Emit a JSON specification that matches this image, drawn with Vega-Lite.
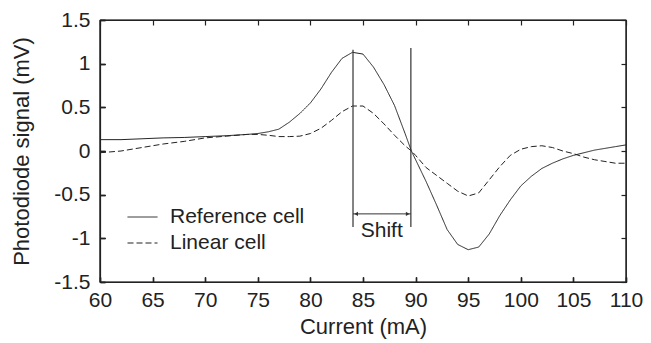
{
  "$schema": "https://vega.github.io/schema/vega-lite/v6.json",
  "width": 526,
  "height": 262,
  "autosize": {"type": "none"},
  "padding": {"left": 100, "top": 20, "right": 25, "bottom": 61},
  "config": {
    "font": "Liberation Sans",
    "view": {"stroke": "#222", "strokeWidth": 1.2},
    "axis": {
      "grid": false,
      "zindex": 1,
      "domainColor": "#222",
      "domainWidth": 1.2,
      "tickColor": "#222",
      "tickWidth": 1.2,
      "labelColor": "#222",
      "titleColor": "#222",
      "labelFontSize": 21,
      "titleFontSize": 22,
      "titleFontWeight": "normal",
      "labelFont": "Liberation Sans",
      "titleFont": "Liberation Sans"
    }
  },
  "datasets": {
    "curves": [
      {"x": 60, "y": 0.13, "cell": "Reference cell"},
      {"x": 62, "y": 0.13, "cell": "Reference cell"},
      {"x": 64, "y": 0.14, "cell": "Reference cell"},
      {"x": 66, "y": 0.15, "cell": "Reference cell"},
      {"x": 68, "y": 0.155, "cell": "Reference cell"},
      {"x": 70, "y": 0.165, "cell": "Reference cell"},
      {"x": 72, "y": 0.175, "cell": "Reference cell"},
      {"x": 74, "y": 0.19, "cell": "Reference cell"},
      {"x": 75, "y": 0.2, "cell": "Reference cell"},
      {"x": 76, "y": 0.22, "cell": "Reference cell"},
      {"x": 77, "y": 0.25, "cell": "Reference cell"},
      {"x": 78, "y": 0.33, "cell": "Reference cell"},
      {"x": 79, "y": 0.43, "cell": "Reference cell"},
      {"x": 80, "y": 0.55, "cell": "Reference cell"},
      {"x": 81, "y": 0.71, "cell": "Reference cell"},
      {"x": 82, "y": 0.9, "cell": "Reference cell"},
      {"x": 83, "y": 1.06, "cell": "Reference cell"},
      {"x": 84, "y": 1.13, "cell": "Reference cell"},
      {"x": 85, "y": 1.11, "cell": "Reference cell"},
      {"x": 86, "y": 0.96, "cell": "Reference cell"},
      {"x": 87, "y": 0.76, "cell": "Reference cell"},
      {"x": 88, "y": 0.52, "cell": "Reference cell"},
      {"x": 89, "y": 0.2, "cell": "Reference cell"},
      {"x": 89.6, "y": 0.0, "cell": "Reference cell"},
      {"x": 90, "y": -0.1, "cell": "Reference cell"},
      {"x": 91, "y": -0.35, "cell": "Reference cell"},
      {"x": 92, "y": -0.62, "cell": "Reference cell"},
      {"x": 93, "y": -0.9, "cell": "Reference cell"},
      {"x": 94, "y": -1.07, "cell": "Reference cell"},
      {"x": 95, "y": -1.13, "cell": "Reference cell"},
      {"x": 96, "y": -1.1, "cell": "Reference cell"},
      {"x": 97, "y": -0.95, "cell": "Reference cell"},
      {"x": 98, "y": -0.74, "cell": "Reference cell"},
      {"x": 99, "y": -0.56, "cell": "Reference cell"},
      {"x": 100, "y": -0.4, "cell": "Reference cell"},
      {"x": 101, "y": -0.29, "cell": "Reference cell"},
      {"x": 102, "y": -0.2, "cell": "Reference cell"},
      {"x": 103, "y": -0.14, "cell": "Reference cell"},
      {"x": 104, "y": -0.09, "cell": "Reference cell"},
      {"x": 105, "y": -0.05, "cell": "Reference cell"},
      {"x": 106, "y": -0.02, "cell": "Reference cell"},
      {"x": 107, "y": 0.01, "cell": "Reference cell"},
      {"x": 108, "y": 0.03, "cell": "Reference cell"},
      {"x": 109, "y": 0.05, "cell": "Reference cell"},
      {"x": 110, "y": 0.07, "cell": "Reference cell"},
      {"x": 60, "y": -0.02, "cell": "Linear cell"},
      {"x": 62, "y": 0.0, "cell": "Linear cell"},
      {"x": 64, "y": 0.04, "cell": "Linear cell"},
      {"x": 66, "y": 0.08, "cell": "Linear cell"},
      {"x": 68, "y": 0.11, "cell": "Linear cell"},
      {"x": 70, "y": 0.15, "cell": "Linear cell"},
      {"x": 72, "y": 0.17, "cell": "Linear cell"},
      {"x": 74, "y": 0.19, "cell": "Linear cell"},
      {"x": 75, "y": 0.19, "cell": "Linear cell"},
      {"x": 76, "y": 0.18, "cell": "Linear cell"},
      {"x": 77, "y": 0.165, "cell": "Linear cell"},
      {"x": 78, "y": 0.165, "cell": "Linear cell"},
      {"x": 79, "y": 0.17, "cell": "Linear cell"},
      {"x": 80, "y": 0.2, "cell": "Linear cell"},
      {"x": 81, "y": 0.26, "cell": "Linear cell"},
      {"x": 82, "y": 0.35, "cell": "Linear cell"},
      {"x": 83, "y": 0.45, "cell": "Linear cell"},
      {"x": 84, "y": 0.515, "cell": "Linear cell"},
      {"x": 85, "y": 0.515, "cell": "Linear cell"},
      {"x": 86, "y": 0.43, "cell": "Linear cell"},
      {"x": 87, "y": 0.31, "cell": "Linear cell"},
      {"x": 88, "y": 0.18, "cell": "Linear cell"},
      {"x": 89, "y": 0.06, "cell": "Linear cell"},
      {"x": 89.6, "y": 0.0, "cell": "Linear cell"},
      {"x": 90, "y": -0.05, "cell": "Linear cell"},
      {"x": 91, "y": -0.19, "cell": "Linear cell"},
      {"x": 92, "y": -0.28, "cell": "Linear cell"},
      {"x": 93, "y": -0.37, "cell": "Linear cell"},
      {"x": 94, "y": -0.46, "cell": "Linear cell"},
      {"x": 95, "y": -0.515, "cell": "Linear cell"},
      {"x": 96, "y": -0.48, "cell": "Linear cell"},
      {"x": 97, "y": -0.33, "cell": "Linear cell"},
      {"x": 98, "y": -0.18, "cell": "Linear cell"},
      {"x": 99, "y": -0.05, "cell": "Linear cell"},
      {"x": 100, "y": 0.02, "cell": "Linear cell"},
      {"x": 101, "y": 0.05, "cell": "Linear cell"},
      {"x": 102, "y": 0.06, "cell": "Linear cell"},
      {"x": 103, "y": 0.04, "cell": "Linear cell"},
      {"x": 104, "y": 0.0, "cell": "Linear cell"},
      {"x": 105, "y": -0.03, "cell": "Linear cell"},
      {"x": 106, "y": -0.07, "cell": "Linear cell"},
      {"x": 107, "y": -0.1, "cell": "Linear cell"},
      {"x": 108, "y": -0.12, "cell": "Linear cell"},
      {"x": 109, "y": -0.14, "cell": "Linear cell"},
      {"x": 110, "y": -0.14, "cell": "Linear cell"}
    ],
    "vlines": [
      {"x": 84.05, "y": 1.16, "y2": -0.87},
      {"x": 89.55, "y": 1.18, "y2": -0.87}
    ],
    "arrow": [
      {"x": 84.05, "x2": 89.55, "y": -0.72}
    ],
    "heads": [
      {"x": 84.35, "y": -0.72, "dir": "left"},
      {"x": 89.25, "y": -0.72, "dir": "right"}
    ],
    "label": [
      {"x": 86.78, "y": -0.985, "text": "Shift"}
    ],
    "frameX": [
      {"x": 60},
      {"x": 110}
    ],
    "frameY": [
      {"y": -1.5},
      {"y": 1.5}
    ]
  },
  "layer": [
    {
      "data": {"name": "curves"},
      "mark": {"type": "line", "color": "#222", "strokeWidth": 1},
      "encoding": {
        "x": {
          "field": "x", "type": "quantitative",
          "scale": {"domain": [60, 110], "nice": false, "zero": false},
          "axis": {"orient": "bottom", "values": [60, 65, 70, 75, 80, 85, 90, 95, 100, 105, 110], "ticks": false, "labelPadding": 7, "title": "Current (mA)", "titlePadding": 6, "labelExpr": "'' + datum.value", "labelFlush": false, "labelOverlap": false}
        },
        "y": {
          "field": "y", "type": "quantitative",
          "scale": {"domain": [-1.5, 1.5], "nice": false, "zero": false},
          "axis": {"orient": "left", "values": [-1.5, -1, -0.5, 0, 0.5, 1, 1.5], "ticks": false, "labelPadding": 10, "title": "Photodiode signal (mV)", "titlePadding": 20, "labelExpr": "'' + datum.value", "labelFlush": false, "labelOverlap": false}
        },
        "strokeDash": {
          "field": "cell", "type": "nominal",
          "scale": {"domain": ["Reference cell", "Linear cell"], "range": [[1, 0], [6, 3]]},
          "legend": {
            "title": null, "orient": "none", "legendX": 27, "legendY": 185,
            "symbolType": "stroke", "symbolSize": 900, "symbolStrokeWidth": 1, "symbolStrokeColor": "#222",
            "labelFontSize": 21, "labelColor": "#222", "labelOffset": 12, "clipHeight": 24, "rowPadding": 2, "padding": 0
          }
        },
        "detail": {"field": "cell"}
      }
    },
    {
      "data": {"name": "vlines"},
      "mark": {"type": "rule", "color": "#333", "strokeWidth": 1.2},
      "encoding": {
        "x": {"field": "x", "type": "quantitative", "axis": {"orient": "top", "values": [60, 65, 70, 75, 80, 85, 90, 95, 100, 105, 110], "offset": -5, "tickSize": 5, "domain": false, "labels": false, "title": null}},
        "y": {"field": "y", "type": "quantitative", "axis": {"orient": "right", "values": [-1.5, -1, -0.5, 0, 0.5, 1, 1.5], "offset": -5, "tickSize": 5, "domain": false, "labels": false, "title": null}},
        "y2": {"field": "y2"}
      }
    },
    {
      "data": {"name": "arrow"},
      "mark": {"type": "rule", "color": "#333", "strokeWidth": 1},
      "encoding": {
        "x": {"field": "x", "type": "quantitative", "axis": {"orient": "bottom", "values": [60, 65, 70, 75, 80, 85, 90, 95, 100, 105, 110], "offset": -5, "tickSize": 5, "domain": false, "labels": false, "title": null}},
        "x2": {"field": "x2"},
        "y": {"field": "y", "type": "quantitative", "axis": {"orient": "left", "values": [-1.5, -1, -0.5, 0, 0.5, 1, 1.5], "offset": -5, "tickSize": 5, "domain": false, "labels": false, "title": null}}
      }
    },
    {
      "data": {"name": "frameX"},
      "mark": {"type": "rule", "color": "#222", "strokeWidth": 1.2},
      "encoding": {
        "x": {"field": "x", "type": "quantitative", "axis": {"orient": "bottom", "values": [60, 65, 70, 75, 80, 85, 90, 95, 100, 105, 110], "offset": -5, "tickSize": 5, "domain": false, "labels": false, "title": null}}
      }
    },
    {
      "data": {"name": "frameY"},
      "mark": {"type": "rule", "color": "#222", "strokeWidth": 1.2},
      "encoding": {
        "y": {"field": "y", "type": "quantitative", "axis": {"orient": "left", "values": [-1.5, -1, -0.5, 0, 0.5, 1, 1.5], "offset": -5, "tickSize": 5, "domain": false, "labels": false, "title": null}}
      }
    },
    {
      "mark": {"type": "rule", "color": "#222", "strokeWidth": 1, "strokeDash": [1, 1]},
      "encoding": {"y": {"datum": 0, "type": "quantitative", "axis": {"orient": "left", "values": [-1.5, -1, -0.5, 0, 0.5, 1, 1.5], "offset": -5, "tickSize": 5, "domain": false, "labels": false, "title": null}}}
    },
    {
      "data": {"name": "heads"},
      "mark": {"type": "point", "filled": true, "color": "#333", "size": 18, "opacity": 1},
      "encoding": {
        "x": {"field": "x", "type": "quantitative", "axis": {"orient": "bottom", "values": [60, 65, 70, 75, 80, 85, 90, 95, 100, 105, 110], "offset": -5, "tickSize": 5, "domain": false, "labels": false, "title": null}},
        "y": {"field": "y", "type": "quantitative", "axis": {"orient": "left", "values": [-1.5, -1, -0.5, 0, 0.5, 1, 1.5], "offset": -5, "tickSize": 5, "domain": false, "labels": false, "title": null}},
        "shape": {"field": "dir", "type": "nominal", "scale": {"domain": ["left", "right"], "range": ["triangle-left", "triangle-right"]}, "legend": null}
      }
    },
    {
      "data": {"name": "label"},
      "mark": {"type": "text", "fontSize": 21, "color": "#222", "align": "center", "baseline": "alphabetic"},
      "encoding": {
        "x": {"field": "x", "type": "quantitative", "axis": {"orient": "bottom", "values": [60, 65, 70, 75, 80, 85, 90, 95, 100, 105, 110], "offset": -5, "tickSize": 5, "domain": false, "labels": false, "title": null}},
        "y": {"field": "y", "type": "quantitative", "axis": {"orient": "left", "values": [-1.5, -1, -0.5, 0, 0.5, 1, 1.5], "offset": -5, "tickSize": 5, "domain": false, "labels": false, "title": null}},
        "text": {"field": "text"}
      }
    }
  ]
}
